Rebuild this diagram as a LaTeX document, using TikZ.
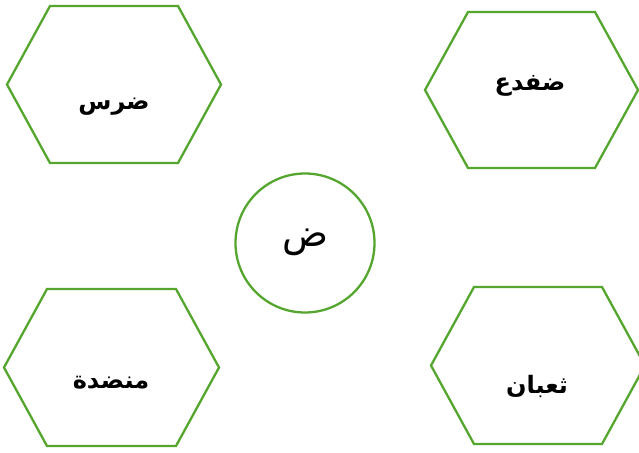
\documentclass[tikz,border=0pt]{standalone}
\usepackage{fontspec}
\newfontfamily\arabicfont[Script=Arabic]{DejaVu Sans}
\TeXXeTstate=1
\definecolor{hexgreen}{RGB}{84,166,46}
\newcommand{\hexpath}[5]{% name, L, T, R, B, inset 43
  \draw[hexline] (#2+43,#3) -- (#4-43,#3) -- (#4,{(#3+#5)/2}) -- (#4-43,#5) -- (#2+43,#5) -- (#2,{(#3+#5)/2}) -- cycle;
}
\tikzset{
  hexline/.style={draw=hexgreen, line width=2.3pt, line join=miter},
  word/.style={font=\arabicfont\bfseries\fontsize{24}{28}\selectfont, inner sep=0pt},
  letter/.style={font=\arabicfont\fontsize{38}{42}\selectfont, inner sep=0pt}
}
\begin{document}
\begin{tikzpicture}[x=1pt,y=-1pt]
\useasboundingbox (0,0) rectangle (639,452);
\clip (0,0) rectangle (639,452);
\hexpath{tl}{7}{6}{221}{163}
\hexpath{tr}{425}{12}{638}{168}
\hexpath{bl}{4}{289}{219}{446}
\hexpath{br}{431}{287}{645}{444}
\node[draw=hexgreen, line width=2.3pt, circle, minimum size=139pt, inner sep=0pt] (c) at (305,243) {};
\node[letter] (ct) at (305,242) {\beginR ض\endR};
\node[word] (t1) at (114,107) {\beginR ضرس\endR};
\node[word] (t2) at (530,86) {\beginR ضفدع\endR};
\node[word] (t3) at (111,383) {\beginR منضدة\endR};
\node[word] (t4) at (537,386) {\beginR ثعبان\endR};
\end{tikzpicture}
\end{document}
